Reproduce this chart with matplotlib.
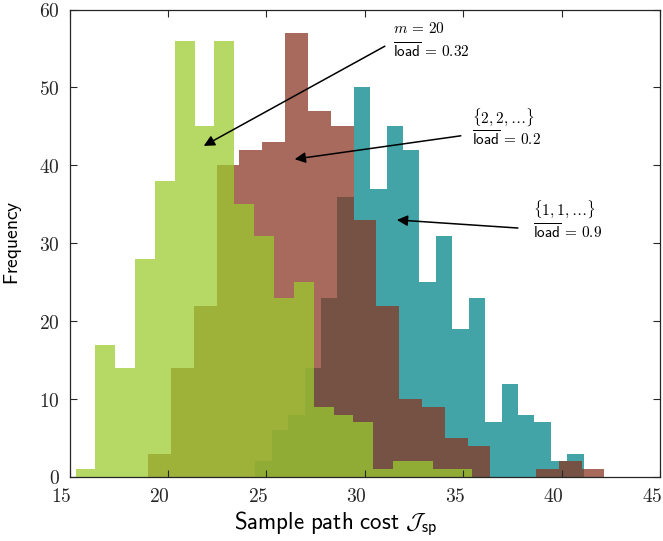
import numpy as np
import matplotlib
matplotlib.use("Agg")
import matplotlib.pyplot as plt
from matplotlib.ticker import FuncFormatter
from matplotlib.transforms import ScaledTranslation

plt.rcParams['mathtext.fontset'] = 'cm'

# ---- data (bin start, bin width, counts per bin) ----
teal_start, teal_width = 24.44, 0.834
teal_counts = [2, 6, 8, 14, 23, 36, 50, 37, 45, 42, 25, 31, 19, 23, 7, 12, 8, 7, 2, 3]

brown_start, brown_width = 19.0, 1.159
brown_counts = [3, 14, 22, 40, 42, 43, 57, 47, 45, 33, 22, 10, 9, 5, 4, 0, 0, 1, 2, 1]

green_start, green_width = 15.31, 1.008
green_counts = [1, 17, 14, 28, 38, 56, 45, 56, 35, 31, 23, 25, 9, 8, 7, 1, 2, 2, 1, 1]

x_ticks = [15, 20, 25, 30, 35, 40, 45]
y_ticks = [0, 10, 20, 30, 40, 50, 60]

fig = plt.figure(figsize=(6.63, 5.41), dpi=100)
ax = fig.add_axes([69.5/663, 1-477/541, 590.5/663, 467.4/541])

alpha = 0.74
series = [
    (teal_start, teal_width, teal_counts, '#008489'),
    (brown_start, brown_width, brown_counts, '#893623'),
    (green_start, green_width, green_counts, '#9bcc2e'),
]
for start, width, counts, color in series:
    edges = start + width * np.arange(len(counts) + 1)
    ax.bar(edges[:-1], counts, width=np.diff(edges), align='edge',
           color=color, alpha=alpha, linewidth=0)

ax.set_xlim(15, 45)
ax.set_ylim(0, 60)
ax.set_xticks(x_ticks)
ax.set_yticks(y_ticks)
fmt = FuncFormatter(lambda v, p: r'$%d$' % v)
ax.xaxis.set_major_formatter(fmt)
ax.yaxis.set_major_formatter(fmt)
ax.tick_params(direction='in', length=5, width=0.8, top=True, right=True,
               labelsize=14, colors='#262626')
ax.tick_params(axis='x', pad=7.5)
ax.tick_params(axis='y', pad=7)
for s in ax.spines.values():
    s.set_color('#262626')
    s.set_linewidth(0.9)

# x tick labels sit to the left of their ticks in the reference
shift = ScaledTranslation(2 / 100, 0, fig.dpi_scale_trans)
for lbl in ax.get_xticklabels():
    lbl.set_horizontalalignment('right')
    lbl.set_transform(lbl.get_transform() + shift)

ax.set_ylabel(r'$\mathsf{Frequency}$', fontsize=14)
ax.yaxis.set_label_coords(-45 / 590.5, 0.5)
ax.set_xlabel(r'$\mathsf{Sample\ path\ cost}\ \mathcal{J}_{\mathsf{sp}}$', fontsize=16.5)
ax.xaxis.set_label_coords((336 - 69.5) / 590.5, -33 / 467.4)

# annotations
aprops = dict(arrowstyle='-|>', color='black', lw=1.1, mutation_scale=16,
              shrinkA=0, shrinkB=0)
ax.annotate('', xy=(21.82, 42.5), xytext=(31.02, 55.3), arrowprops=aprops)
ax.annotate('', xy=(26.44, 40.8), xytext=(34.88, 43.8), arrowprops=aprops)
ax.annotate('', xy=(31.63, 33.0), xytext=(37.78, 31.96), arrowprops=aprops)

fs = 11
ax.text(31.42, 57.6, r'$m\,=\,20$', fontsize=fs, va='center', ha='left')
ax.text(31.42, 54.6, r'$\overline{\mathsf{load}}\,=\,0.32$', fontsize=fs, va='center', ha='left')
ax.text(35.47, 46.2, r'$\{2, 2, \ldots\}$', fontsize=fs, va='center', ha='left')
ax.text(35.47, 43.3, r'$\overline{\mathsf{load}}\,=\,0.2$', fontsize=fs, va='center', ha='left')
ax.text(38.56, 34.4, r'$\{1, 1, \ldots\}$', fontsize=fs, va='center', ha='left')
ax.text(38.56, 31.4, r'$\overline{\mathsf{load}}\,=\,0.9$', fontsize=fs, va='center', ha='left')

fig.savefig('out.png', dpi=100)
